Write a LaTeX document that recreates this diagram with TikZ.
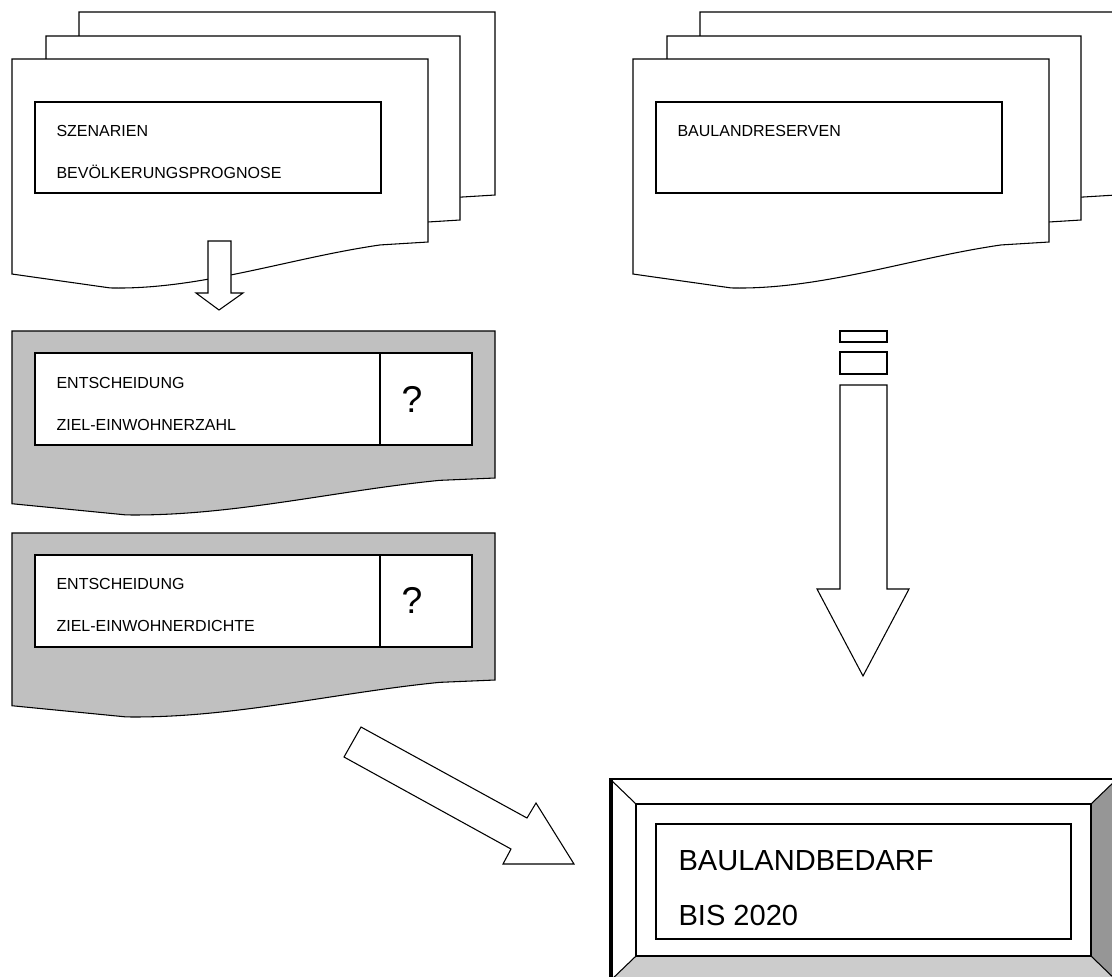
\documentclass[tikz,border=0pt]{standalone}
\usepackage{fontspec}
\setmainfont{Liberation Sans}
\usetikzlibrary{fit}

\definecolor{pagegray}{HTML}{C0C0C0}
\definecolor{bevellight}{HTML}{CCCCCC}
\definecolor{beveldark}{HTML}{969696}

\tikzset{
	pics/docpage/.style={code={
		\draw[pic actions] (0,0) -- (1,0) -- (1,1) -- (0.885,1.016) .. controls (0.668,1.087) and (0.452,1.262) .. (0.236,1.251) -- (0,1.175) -- cycle;
	}},
	box/.style={draw, fill=white, inner sep=0pt},
	lbl/.style={anchor=base west, inner sep=0pt, font=\fontsize{12}{14}\selectfont},
	biglbl/.style={anchor=base west, inner sep=0pt, font=\fontsize{21.8}{26}\selectfont},
	quest/.style={anchor=base, inner sep=0pt, font=\fontsize{28}{32}\selectfont},
	blockarrow/.style={draw, fill=white, line join=miter},
}

\begin{document}
\begin{tikzpicture}[x=0.75pt, y=-0.75pt, line width=0.8pt]
			\useasboundingbox (0,0) rectangle (1112,976);
			\clip (0,0) rectangle (1112,976);

			\pic[fill=white, xscale=416, yscale=183] at (79,12) {docpage};
			\pic[fill=white, xscale=414, yscale=184] at (46,36) {docpage};
			\pic[fill=white, xscale=416, yscale=183] at (12,59) {docpage};
			\node[box, fit={(35,102) (381,193)}] (prognosebox) {};
			\node[lbl] (szenarien) at (56,136) {SZENARIEN};
			\node[lbl] (prognose) at (56,178) {BEVÖLKERUNGSPROGNOSE};

			\pic[fill=white, xscale=416, yscale=183] at (700,12) {docpage};
			\pic[fill=white, xscale=414, yscale=184] at (667,36) {docpage};
			\pic[fill=white, xscale=416, yscale=183] at (633,59) {docpage};
			\node[box, fit={(656,102) (1002,193)}] (reservenbox) {};
			\node[lbl] (reserven) at (677,136) {BAULANDRESERVEN};

			\draw[blockarrow] (208,241) -- (231,241) -- (231,293) -- (243,293) -- (219,310) -- (196,293) -- (208,293) -- cycle;

			\pic[fill=pagegray, xscale=483, yscale=147] at (12,331) {docpage};
			\node[box, fit={(35,353) (380,445)}] (zahlbox) {};
			\node[box, fit={(380,353) (472,445)}] (zahlfrage) {};
			\node[lbl] (entscheidung1) at (56,388) {ENTSCHEIDUNG};
			\node[lbl] (zahl) at (56,430) {ZIEL-EINWOHNERZAHL};
			\node[quest] (frage1) at (412,412) {?};

			\pic[fill=pagegray, xscale=483, yscale=147] at (12,533) {docpage};
			\node[box, fit={(35,555) (380,647)}] (dichtebox) {};
			\node[box, fit={(380,555) (472,647)}] (dichtefrage) {};
			\node[lbl] (entscheidung2) at (56,589) {ENTSCHEIDUNG};
			\node[lbl] (dichte) at (56,631) {ZIEL-EINWOHNERDICHTE};
			\node[quest] (frage2) at (412,613) {?};

			\draw[blockarrow] (840,331) rectangle (887,342);
			\draw[blockarrow] (840,352) rectangle (887,374);
			\draw[blockarrow] (840,385) -- (887,385) -- (887,589) -- (909,589) -- (863,676) -- (817,589) -- (840,589) -- cycle;

			\draw[blockarrow] (361,727) -- (527,818) -- (536,803) -- (574,864) -- (503,864) -- (511,849) -- (344,757) -- cycle;

			\node[draw, fill=white, inner sep=0pt, fit={(610,779) (1117,981)}] (rahmen) {};
			\fill[bevellight] (rahmen.south west) -- (636,956) -- (1091,956) -- (rahmen.south east) -- cycle;
			\fill[beveldark] (rahmen.north east) -- (1091,804) -- (1091,956) -- (rahmen.south east) -- cycle;
			\node[draw, inner sep=0pt, fit={(636,804) (1091,956)}] (spiegel) {};
			\draw (rahmen.north west) -- (spiegel.north west);
			\draw (rahmen.north east) -- (spiegel.north east);
			\draw (rahmen.south west) -- (spiegel.south west);
			\draw (rahmen.south east) -- (spiegel.south east);
			\draw (rahmen.north west) rectangle (rahmen.south east);
			\draw (612,779) -- (612,981);
			\node[box, fit={(656,824) (1071,939)}] (bedarfbox) {};
			\node[biglbl] (bedarf) at (678,870) {BAULANDBEDARF};
			\node[biglbl] (bis) at (678,925) {BIS 2020};
		\end{tikzpicture}
\end{document}
